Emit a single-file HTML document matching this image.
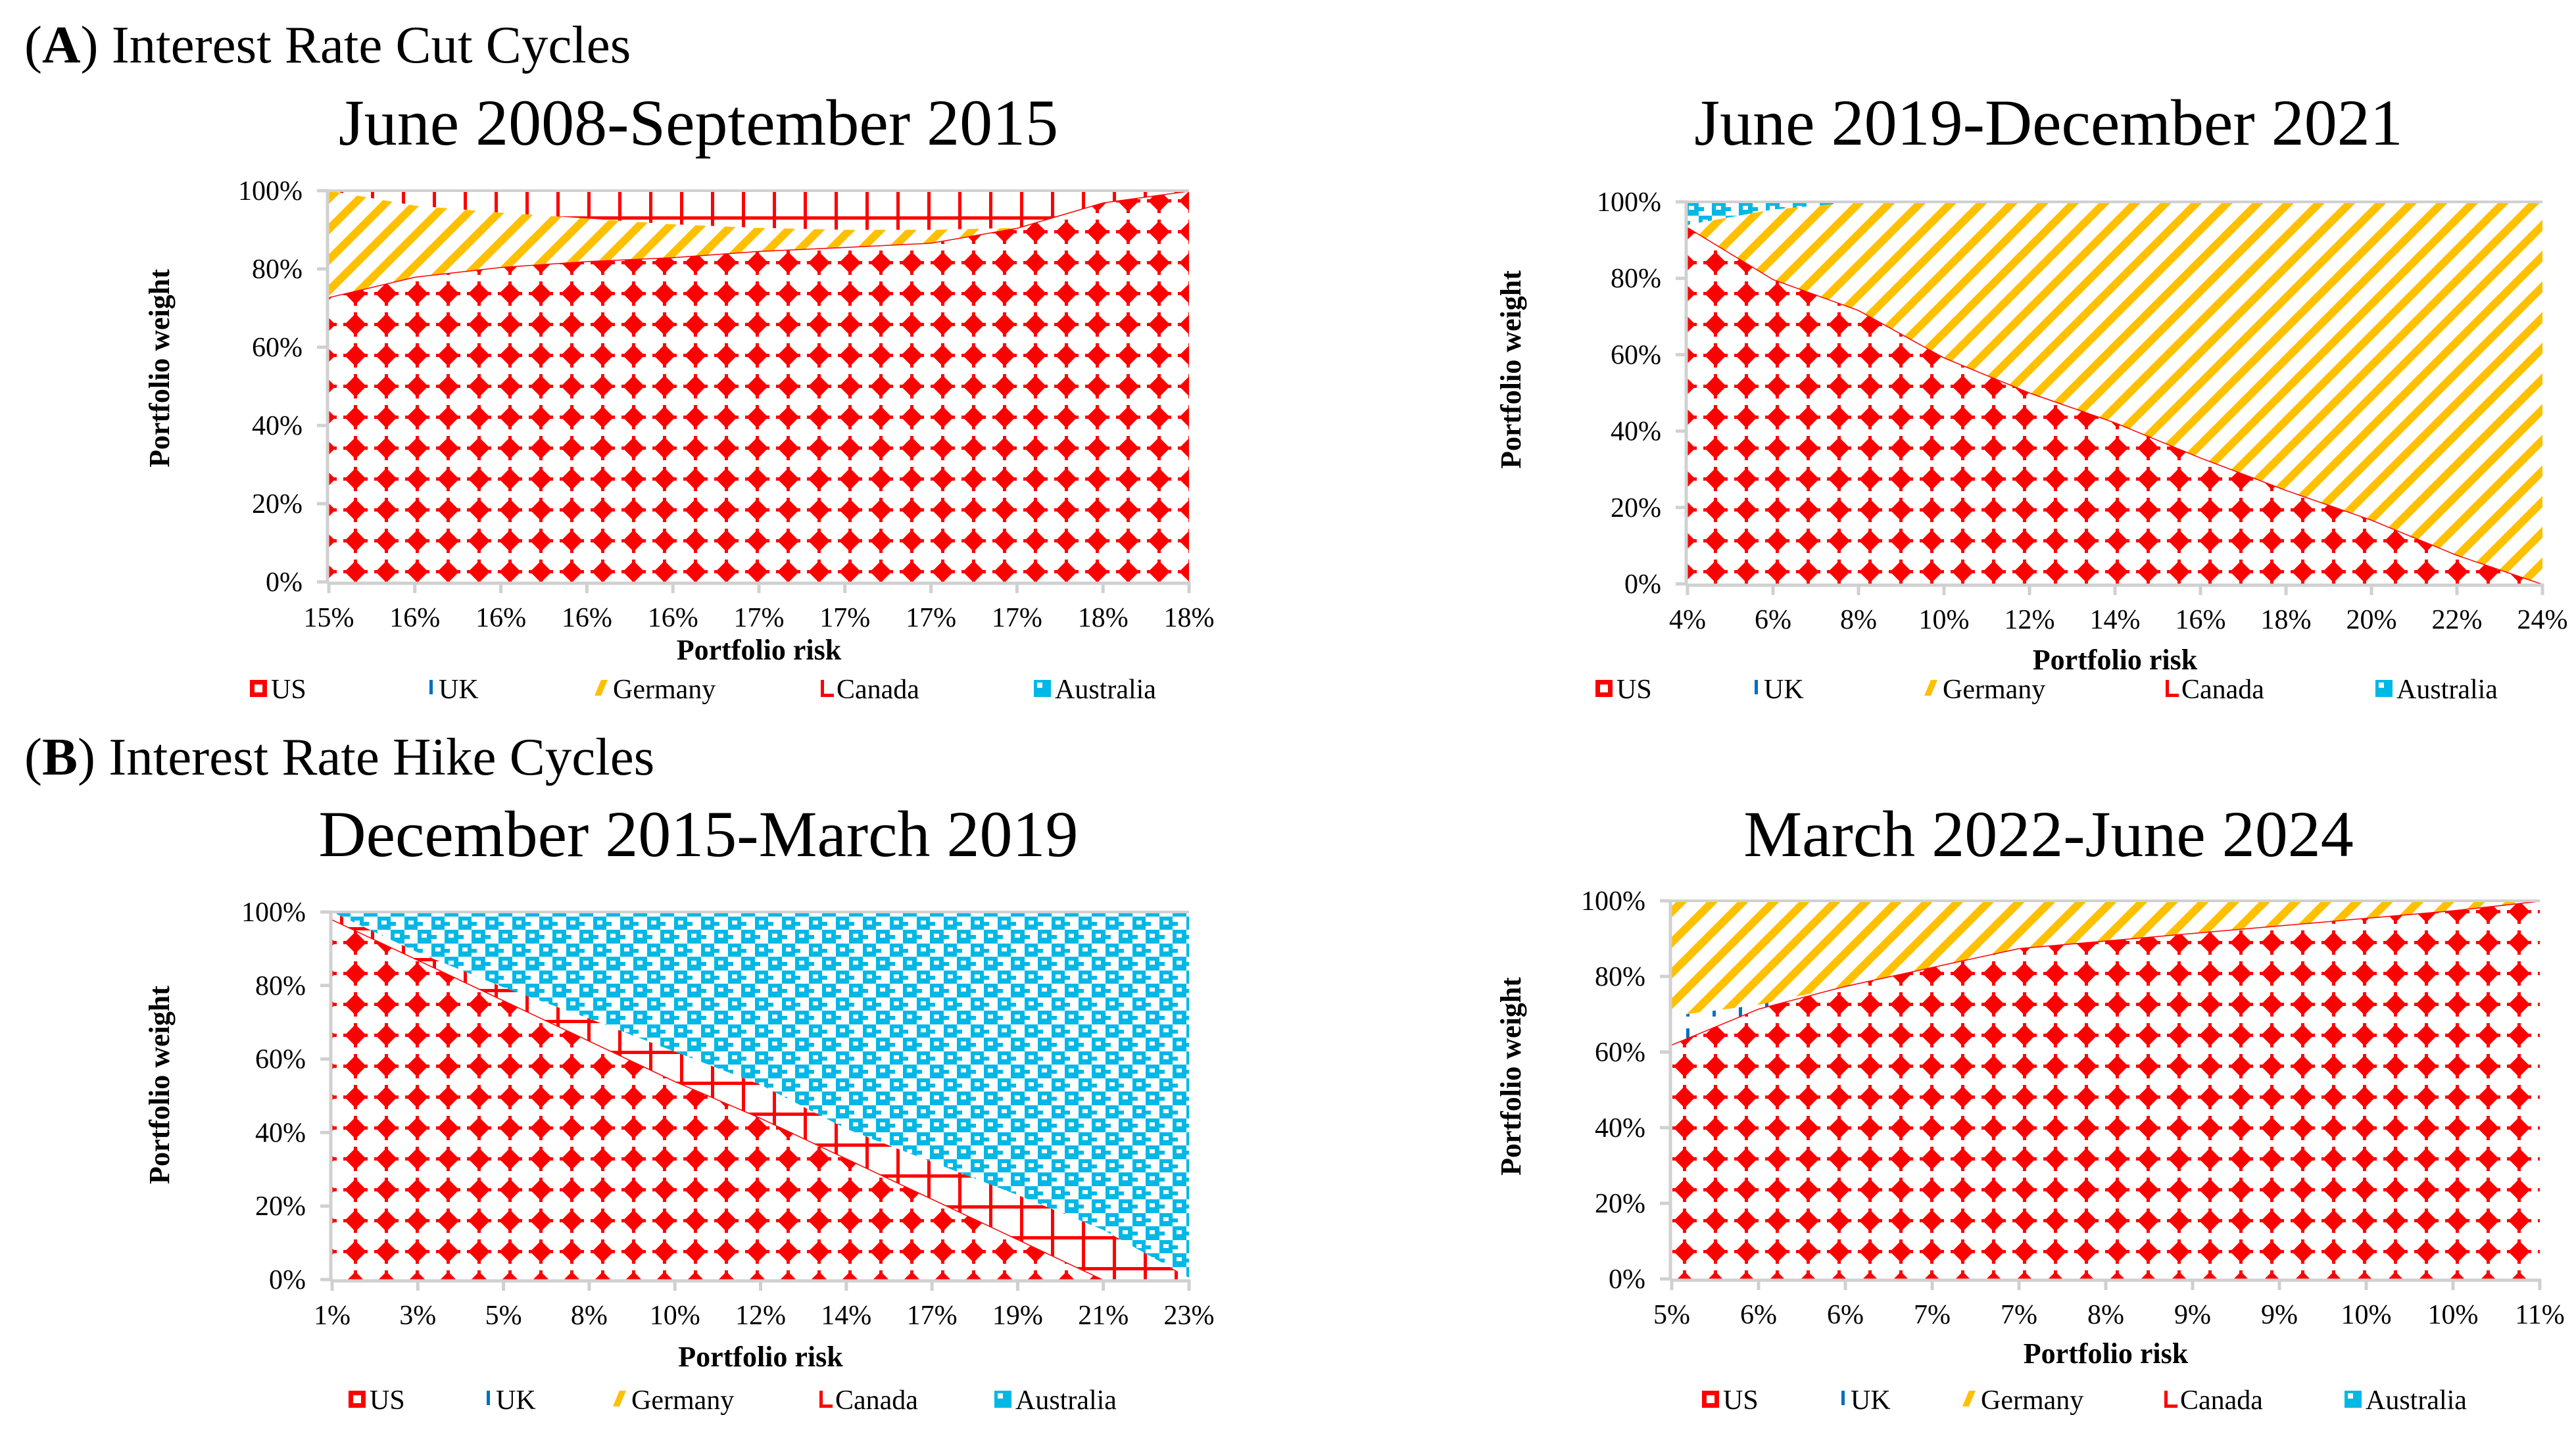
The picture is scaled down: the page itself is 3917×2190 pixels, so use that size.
<!DOCTYPE html>
<html><head><meta charset="utf-8"><style>
html,body{margin:0;padding:0;background:#fff;}
svg{display:block;}
text{font-family:"Liberation Serif",serif;fill:#000;}
</style></head><body>
<svg id="fig" width="3917" height="2190" viewBox="0 0 3917 2190" xmlns="http://www.w3.org/2000/svg">
<defs>
<pattern id="pUS" patternUnits="userSpaceOnUse" width="47" height="47" x="0" y="0">
<rect width="47" height="47" fill="#fff"/>
<polygon points="23.5,7 40,23.5 23.5,40 7,23.5" fill="#ff0000"/>
<rect x="21" y="5" width="5" height="37" fill="#ff0000"/>
<rect x="5" y="21" width="37" height="5" fill="#ff0000"/>
</pattern>
<pattern id="pGer" patternUnits="userSpaceOnUse" width="33" height="33" patternTransform="rotate(45)">
<rect width="33" height="33" fill="#fff"/><rect x="0" y="0" width="12" height="33" fill="#ffc000"/>
</pattern>
<pattern id="pCan" patternUnits="userSpaceOnUse" width="47" height="47">
<rect width="47" height="47" fill="#fff"/><rect x="0" y="0" width="5" height="47" fill="#ff0000"/><rect x="0" y="0" width="47" height="5" fill="#ff0000"/>
</pattern>
<pattern id="pAus" patternUnits="userSpaceOnUse" width="41" height="41">
<rect width="41" height="41" fill="#fff"/>
<rect x="0" y="0" width="20" height="20" fill="#00b8e6"/><rect x="20" y="20" width="21" height="21" fill="#00b8e6"/>
<rect x="6" y="6" width="8" height="6" fill="#fff"/><rect x="26" y="26" width="8" height="6" fill="#fff"/>
<rect x="20" y="8" width="8" height="6" fill="#00b8e6"/><rect x="0" y="28" width="8" height="6" fill="#00b8e6"/>
</pattern>
<pattern id="pUK" patternUnits="userSpaceOnUse" width="40" height="40">
<rect width="40" height="40" fill="#fff"/><rect x="4" y="4" width="5" height="22" fill="#0070c0"/>
</pattern>
</defs>
<text x="37" y="95" font-size="81">(<tspan font-weight="bold">A</tspan>) Interest Rate Cut Cycles</text>
<text x="37" y="1178" font-size="81">(<tspan font-weight="bold">B</tspan>) Interest Rate Hike Cycles</text>
<g id="charts"></g>
</svg>
<script>
// ---- Chart A1: June 2008-September 2015 ----
const a1Ticks = ["15%","16%","16%","16%","16%","17%","17%","17%","17%","18%","18%"];
const a1US = [72.8,78,80.5,82,83,84.6,85.6,86.7,90.5,97,100];
const a1UK = [0,0,0,0,0,0,0,0,0,0,0];
const a1Germany = [27.2,18.2,13.9,10.9,8.4,5.9,4.4,3.3,0,0,0];
const a1Canada = [0,3.8,5.6,7.1,8.6,9.5,10,10,9.5,3,0];
const a1Australia = [0,0,0,0,0,0,0,0,0,0,0];
// ---- Chart A2: June 2019-December 2021 ----
const a2Ticks = ["4%","6%","8%","10%","12%","14%","16%","18%","20%","22%","24%"];
const a2US = [93.4,79.8,71.7,59.3,50.1,42.3,33.1,24.6,16.8,7.6,0];
const a2UK = [0,0,0,0,0,0,0,0,0,0,0];
const a2Germany = [0.6,18.2,28.3,40.7,49.9,57.7,66.9,75.4,83.2,92.4,100];
const a2Canada = [0,0,0,0,0,0,0,0,0,0,0];
const a2Australia = [6,2,0,0,0,0,0,0,0,0,0];
// ---- Chart B1: December 2015-March 2019 ----
const b1Ticks = ["1%","3%","5%","8%","10%","12%","14%","17%","19%","21%","23%"];
const b1US = [98,87,76,65,54,44,33,22,11,0,0];
const b1UK = [0,0,0,0,0,0,0,0,0,0,0];
const b1Germany = [0,0,0,0,0,0,0,0,0,0,0];
const b1Canada = [2,2,3.5,6,8,9,8,10,12,13.5,0.5];
const b1Australia = [0,11,20.5,29,38,47,59,68,77,86.5,99.5];
// ---- Chart B2: March 2022-June 2024 ----
const b2Ticks = ["5%","6%","6%","7%","7%","8%","9%","9%","10%","10%","11%"];
const b2US = [62,71.5,77.5,82.5,87.5,89.5,91.5,93.5,95.5,97.5,100];
const b2UK = [7.5,1,0,0,0,0,0,0,0,0,0];
const b2Germany = [30.5,27.5,22.5,17.5,12.5,10.5,8.5,6.5,4.5,2.5,0];
const b2Canada = [0,0,0,0,0,0,0,0,0,0,0];
const b2Australia = [0,0,0,0,0,0,0,0,0,0,0];
const yTicks = ["0%","20%","40%","60%","80%","100%"];
const seriesNames = ["US","UK","Germany","Canada","Australia"];

const NS="http://www.w3.org/2000/svg";
const root=document.getElementById('charts');
function mk(tag,attrs,parent){const e=document.createElementNS(NS,tag);for(const k in attrs)e.setAttribute(k,attrs[k]);(parent||root).appendChild(e);return e;}

function drawChart(id,title,L,R,T,B,titleX,titleY,ylabX,ylabY,xtitY,legY,legX,ticks,series){
  const g=mk('g',{});
  
  
  const n=ticks.length;
  const xs=i=>L+(R-L)*i/(n-1);
  const ys=v=>B-(B-T)*v/100;
  const t=mk('text',{x:titleX,y:titleY,'font-size':100,'text-anchor':'middle'},g);t.textContent=title;
  
  
  const fills=['url(#pUS)','url(#pUK)','url(#pGer)','url(#pCan)','url(#pAus)'];
  let base=new Array(n).fill(0);
  series.forEach((s,k)=>{
    const top=base.map((b,i)=>b+s[i]);
    let d='M'+xs(0)+','+ys(top[0]);
    for(let i=1;i<n;i++)d+=' L'+xs(i)+','+ys(top[i]);
    for(let i=n-1;i>=0;i--)d+=' L'+xs(i)+','+ys(base[i]);
    d+='Z';
    const p=mk('path',{d:d,fill:fills[k]},g);
    
    
    if(k===0){
      let ld='M'+xs(0)+','+ys(top[0]);
      for(let i=1;i<n;i++)ld+=' L'+xs(i)+','+ys(top[i]);
      const ln=mk('path',{d:ld,fill:'none',stroke:'#ff0000','stroke-width':3},g);
      
      
    }
    base=top;
  });
  mk('line',{x1:L,y1:T,x2:R,y2:T,stroke:'#d0d0d0','stroke-width':4},g);
  const ya=mk('line',{x1:L-2,y1:T-2,x2:L-2,y2:B+2,stroke:'#d0d0d0','stroke-width':5},g);
  
  
  const xa=mk('line',{x1:L-2,y1:B+2,x2:R+2,y2:B+2,stroke:'#d0d0d0','stroke-width':5},g);
  
  
  yTicks.forEach((lab,j)=>{
    const y=ys(j*20);
    mk('line',{x1:L-18,y1:y,x2:L,y2:y,stroke:'#d0d0d0','stroke-width':5},g);
    const tt=mk('text',{x:L-40,y:y+14,'font-size':42,'text-anchor':'end'},g);tt.textContent=lab;
    
    
  });
  ticks.forEach((lab,i)=>{
    const x=xs(i);
    mk('line',{x1:x,y1:B,x2:x,y2:B+17,stroke:'#d0d0d0','stroke-width':5},g);
    const tt=mk('text',{x:x,y:B+68,'font-size':42,'text-anchor':'middle'},g);tt.textContent=lab;
    
    
  });
  const xt=mk('text',{x:(L+R)/2,y:xtitY,'font-size':44,'font-weight':'bold','text-anchor':'middle'},g);xt.textContent='Portfolio risk';
  
  
  const yt=mk('text',{x:ylabX,y:ylabY,'font-size':44,'font-weight':'bold','text-anchor':'middle',transform:'rotate(-90 '+ylabX+' '+ylabY+')'},g);yt.textContent='Portfolio weight';
  
  
  const markers=[
    (x,y)=>{mk('rect',{x:x,y:y-28,width:26,height:26,fill:'#ff0000'},g);mk('rect',{x:x+7,y:y-21,width:12,height:12,fill:'#fff'},g);},
    (x,y)=>{mk('rect',{x:x+18,y:y-28,width:5,height:22,fill:'#0070c0'},g);},
    (x,y)=>{mk('polygon',{points:(x+4)+','+(y-4)+' '+(x+14)+','+(y-28)+' '+(x+24)+','+(y-28)+' '+(x+14)+','+(y-4),fill:'#ffc000'},g);},
    (x,y)=>{mk('rect',{x:x+8,y:y-28,width:5,height:26,fill:'#ff0000'},g);mk('rect',{x:x+8,y:y-7,width:20,height:5,fill:'#ff0000'},g);},
    (x,y)=>{mk('rect',{x:x,y:y-28,width:26,height:26,fill:'#00b8e6'},g);mk('rect',{x:x+5,y:y-24,width:8,height:8,fill:'#fff'},g);}
  ];
  seriesNames.forEach((nm,k)=>{
    const lg=mk('g',{},g);
    
    
    const x=legX[k];
    const before=g.childNodes.length;
    markers[k](x,legY);
    while(g.childNodes.length>before)lg.appendChild(g.childNodes[before]);
    const tx=mk('text',{x:x+32,y:legY,'font-size':42},lg);tx.textContent=nm;
  });
}
drawChart('a1','June 2008-September 2015',500,1808,290,885,1062,220,257,560,1003,1062,[380,635,900,1240,1572],a1Ticks,[a1US,a1UK,a1Germany,a1Canada,a1Australia]);
drawChart('a2','June 2019-December 2021',2566,3866,307,888,3115,220,2312,562,1018,1062,[2426,2650,2922,3285,3612],a2Ticks,[a2US,a2UK,a2Germany,a2Canada,a2Australia]);
drawChart('b1','December 2015-March 2019',505,1808,1387,1946,1062,1302,257,1650,2078,2143,[530,722,928,1238,1512],b1Ticks,[b1US,b1UK,b1Germany,b1Canada,b1Australia]);
drawChart('b2','March 2022-June 2024',2542,3862,1370,1945,3115,1302,2312,1637,2073,2143,[2588,2782,2980,3283,3565],b2Ticks,[b2US,b2UK,b2Germany,b2Canada,b2Australia]);
</script>
</body></html>
